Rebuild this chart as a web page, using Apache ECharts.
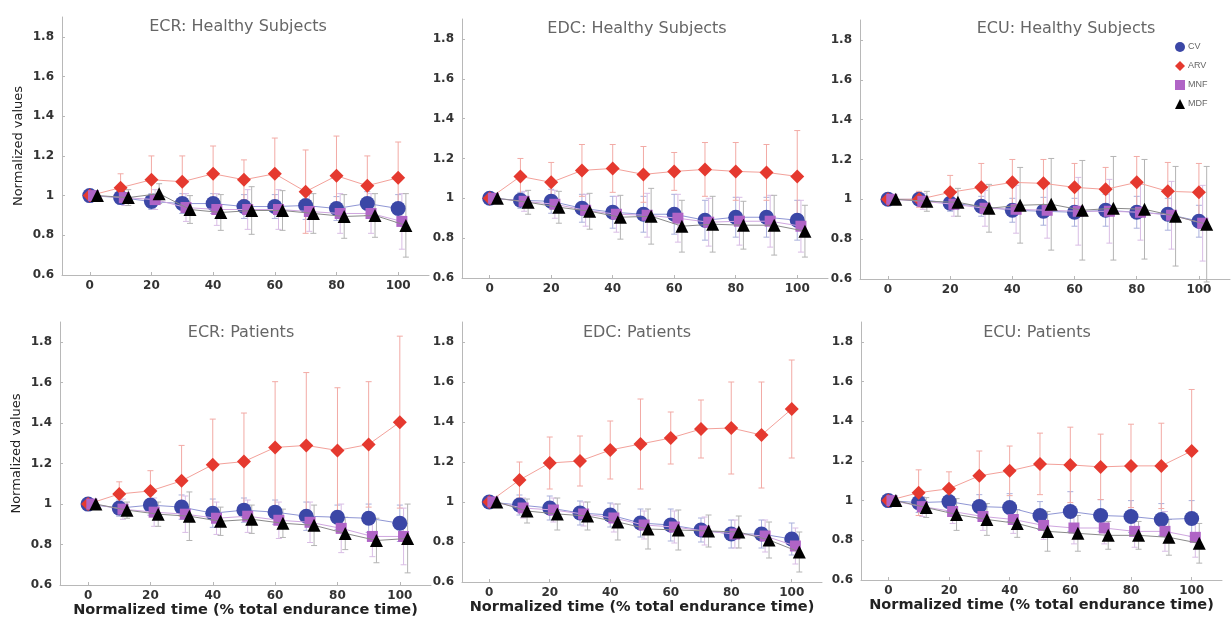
<!DOCTYPE html>
<html>
<head>
<meta charset="utf-8">
<script src="https://cdn.jsdelivr.net/npm/echarts@6/dist/echarts.min.js"></script>
<style>
html,body{margin:0;padding:0;background:#fff;}
#chart{width:1232px;height:620px;}
</style>
</head>
<body>
<div id="chart"></div>
<script>
// ---- categories / ticks ----
const timePoints = [0, 10, 20, 30, 40, 50, 60, 70, 80, 90, 100];
const xTickValues = [0, 20, 40, 60, 80, 100];
const yTickValues = [0.6, 0.8, 1.0, 1.2, 1.4, 1.6, 1.8];
const seriesNames = ['CV', 'ARV', 'MNF', 'MDF'];
const panelTitles = ['ECR: Healthy Subjects', 'EDC: Healthy Subjects', 'ECU: Healthy Subjects',
                     'ECR: Patients', 'EDC: Patients', 'ECU: Patients'];

// ---- ECR healthy ----
const ecrHealthyCV     = [1.00, 0.99, 0.97, 0.96, 0.96, 0.945, 0.945, 0.95, 0.935, 0.96, 0.935];
const ecrHealthyCVsd   = [0, 0.03, 0.04, 0.05, 0.05, 0.06, 0.06, 0.07, 0.06, 0.06, 0.07];
const ecrHealthyARV    = [1.00, 1.04, 1.08, 1.07, 1.11, 1.08, 1.11, 1.02, 1.10, 1.05, 1.09];
const ecrHealthyARVsd  = [0, 0.07, 0.12, 0.13, 0.14, 0.10, 0.18, 0.21, 0.20, 0.15, 0.18];
const ecrHealthyMNF    = [1.00, 0.99, 0.98, 0.94, 0.93, 0.93, 0.93, 0.92, 0.91, 0.91, 0.87];
const ecrHealthyMNFsd  = [0, 0.04, 0.05, 0.07, 0.08, 0.10, 0.10, 0.10, 0.10, 0.10, 0.14];
const ecrHealthyMDF    = [1.00, 0.99, 1.01, 0.93, 0.915, 0.925, 0.925, 0.91, 0.895, 0.90, 0.85];
const ecrHealthyMDFsd  = [0, 0.04, 0.05, 0.07, 0.09, 0.12, 0.10, 0.10, 0.11, 0.11, 0.16];

// ---- EDC healthy ----
const edcHealthyCV     = [1.00, 0.99, 0.985, 0.95, 0.93, 0.92, 0.92, 0.89, 0.905, 0.905, 0.89];
const edcHealthyCVsd   = [0, 0.04, 0.06, 0.07, 0.08, 0.09, 0.10, 0.10, 0.10, 0.10, 0.10];
const edcHealthyARV    = [1.00, 1.11, 1.08, 1.14, 1.15, 1.12, 1.135, 1.145, 1.135, 1.13, 1.11];
const edcHealthyARVsd  = [0, 0.09, 0.10, 0.13, 0.12, 0.14, 0.095, 0.135, 0.145, 0.14, 0.23];
const edcHealthyMNF    = [1.00, 0.985, 0.97, 0.94, 0.92, 0.915, 0.90, 0.88, 0.885, 0.885, 0.86];
const edcHealthyMNFsd  = [0, 0.05, 0.07, 0.08, 0.09, 0.11, 0.12, 0.12, 0.12, 0.13, 0.13];
const edcHealthyMDF    = [1.00, 0.98, 0.955, 0.935, 0.905, 0.91, 0.86, 0.87, 0.865, 0.865, 0.835];
const edcHealthyMDFsd  = [0, 0.06, 0.08, 0.09, 0.11, 0.14, 0.13, 0.14, 0.12, 0.15, 0.13];

// ---- ECU healthy ----
const ecuHealthyCV     = [1.00, 1.00, 0.98, 0.965, 0.945, 0.94, 0.935, 0.945, 0.935, 0.925, 0.89];
const ecuHealthyCVsd   = [0, 0.03, 0.04, 0.05, 0.06, 0.07, 0.07, 0.08, 0.08, 0.08, 0.08];
const ecuHealthyARV    = [1.00, 1.00, 1.035, 1.06, 1.085, 1.08, 1.06, 1.05, 1.085, 1.04, 1.035];
const ecuHealthyARVsd  = [0, 0.04, 0.085, 0.12, 0.115, 0.12, 0.12, 0.11, 0.13, 0.145, 0.145];
const ecuHealthyMNF    = [1.00, 0.99, 0.975, 0.955, 0.95, 0.945, 0.94, 0.94, 0.935, 0.92, 0.88];
const ecuHealthyMNFsd  = [0, 0.04, 0.06, 0.09, 0.12, 0.14, 0.17, 0.16, 0.14, 0.17, 0.19];
const ecuHealthyMDF    = [1.00, 0.99, 0.985, 0.955, 0.97, 0.975, 0.945, 0.955, 0.95, 0.915, 0.875];
const ecuHealthyMDFsd  = [0, 0.05, 0.07, 0.12, 0.19, 0.23, 0.25, 0.26, 0.25, 0.25, 0.29];

// ---- ECR patients ----
const ecrPatientsCV    = [1.00, 0.98, 0.995, 0.985, 0.955, 0.97, 0.96, 0.94, 0.935, 0.93, 0.905];
const ecrPatientsCVsd  = [0, 0.04, 0.05, 0.06, 0.07, 0.06, 0.06, 0.07, 0.06, 0.07, 0.09];
const ecrPatientsARV   = [1.00, 1.05, 1.065, 1.115, 1.195, 1.21, 1.28, 1.29, 1.265, 1.295, 1.405];
const ecrPatientsARVsd = [0, 0.06, 0.10, 0.175, 0.225, 0.24, 0.325, 0.36, 0.31, 0.31, 0.425];
const ecrPatientsMNF   = [1.00, 0.975, 0.96, 0.95, 0.93, 0.94, 0.92, 0.91, 0.88, 0.84, 0.84];
const ecrPatientsMNFsd = [0, 0.05, 0.07, 0.09, 0.08, 0.08, 0.09, 0.10, 0.12, 0.10, 0.14];
const ecrPatientsMDF   = [1.00, 0.97, 0.95, 0.94, 0.915, 0.925, 0.905, 0.895, 0.855, 0.82, 0.83];
const ecrPatientsMDFsd = [0, 0.04, 0.06, 0.12, 0.07, 0.07, 0.07, 0.10, 0.08, 0.11, 0.17];

// ---- EDC patients ----
const edcPatientsCV    = [1.00, 0.985, 0.97, 0.945, 0.935, 0.895, 0.885, 0.86, 0.84, 0.84, 0.815];
const edcPatientsCVsd  = [0, 0.05, 0.06, 0.06, 0.06, 0.07, 0.08, 0.06, 0.07, 0.07, 0.08];
const edcPatientsARV   = [1.00, 1.11, 1.195, 1.205, 1.26, 1.29, 1.32, 1.365, 1.37, 1.335, 1.465];
const edcPatientsARVsd = [0, 0.09, 0.13, 0.125, 0.145, 0.225, 0.13, 0.145, 0.23, 0.265, 0.245];
const edcPatientsMNF   = [1.00, 0.97, 0.96, 0.94, 0.92, 0.885, 0.875, 0.855, 0.84, 0.83, 0.78];
const edcPatientsMNFsd = [0, 0.05, 0.06, 0.06, 0.07, 0.07, 0.08, 0.07, 0.07, 0.08, 0.09];
const edcPatientsMDF   = [1.00, 0.955, 0.94, 0.93, 0.90, 0.865, 0.86, 0.855, 0.85, 0.81, 0.75];
const edcPatientsMDFsd = [0, 0.06, 0.08, 0.07, 0.09, 0.10, 0.10, 0.08, 0.08, 0.09, 0.10];

// ---- ECU patients ----
const ecuPatientsCV    = [1.00, 0.99, 0.995, 0.97, 0.965, 0.925, 0.945, 0.925, 0.92, 0.905, 0.91];
const ecuPatientsCVsd  = [0, 0.05, 0.05, 0.06, 0.07, 0.07, 0.10, 0.08, 0.08, 0.08, 0.09];
const ecuPatientsARV   = [1.00, 1.04, 1.06, 1.125, 1.15, 1.185, 1.18, 1.17, 1.175, 1.175, 1.25];
const ecuPatientsARVsd = [0, 0.115, 0.085, 0.125, 0.125, 0.155, 0.19, 0.165, 0.21, 0.215, 0.31];
const ecuPatientsMNF   = [1.00, 0.97, 0.945, 0.92, 0.905, 0.875, 0.862, 0.862, 0.845, 0.845, 0.815];
const ecuPatientsMNFsd = [0, 0.05, 0.06, 0.07, 0.07, 0.07, 0.08, 0.08, 0.08, 0.10, 0.10];
const ecuPatientsMDF   = [1.00, 0.965, 0.93, 0.905, 0.885, 0.845, 0.835, 0.825, 0.825, 0.815, 0.785];
const ecuPatientsMDFsd = [0, 0.05, 0.08, 0.08, 0.07, 0.10, 0.09, 0.07, 0.07, 0.09, 0.10];

// ---- table built from the arrays ----
const panelData = [
  [[ecrHealthyCV, ecrHealthyCVsd], [ecrHealthyARV, ecrHealthyARVsd], [ecrHealthyMNF, ecrHealthyMNFsd], [ecrHealthyMDF, ecrHealthyMDFsd]],
  [[edcHealthyCV, edcHealthyCVsd], [edcHealthyARV, edcHealthyARVsd], [edcHealthyMNF, edcHealthyMNFsd], [edcHealthyMDF, edcHealthyMDFsd]],
  [[ecuHealthyCV, ecuHealthyCVsd], [ecuHealthyARV, ecuHealthyARVsd], [ecuHealthyMNF, ecuHealthyMNFsd], [ecuHealthyMDF, ecuHealthyMDFsd]],
  [[ecrPatientsCV, ecrPatientsCVsd], [ecrPatientsARV, ecrPatientsARVsd], [ecrPatientsMNF, ecrPatientsMNFsd], [ecrPatientsMDF, ecrPatientsMDFsd]],
  [[edcPatientsCV, edcPatientsCVsd], [edcPatientsARV, edcPatientsARVsd], [edcPatientsMNF, edcPatientsMNFsd], [edcPatientsMDF, edcPatientsMDFsd]],
  [[ecuPatientsCV, ecuPatientsCVsd], [ecuPatientsARV, ecuPatientsARVsd], [ecuPatientsMNF, ecuPatientsMNFsd], [ecuPatientsMDF, ecuPatientsMDFsd]]
];

// ---- layout & style (not data) ----
const grids = [
  {left: 62,  top: 17,  width: 367, height: 258},
  {left: 462, top: 19,  width: 366, height: 259},
  {left: 860, top: 20,  width: 370, height: 259},
  {left: 60,  top: 322, width: 371, height: 263},
  {left: 462, top: 322, width: 360, height: 260},
  {left: 861, top: 322, width: 361, height: 258}
];
const titleCenters = [[233, 14], [632, 16], [1061, 16], [236, 320], [632, 320], [1032, 320]];
const styles = [
  {symbol: 'circle',   size: 15, color: '#3b47a6', line: '#8f96d4', err: '#aab0dc', off: 0},
  {symbol: 'diamond',  size: 14, color: '#e5392f', line: '#f3a19a', err: '#f2aaa5', off: 0},
  {symbol: 'rect',     size: 11, color: '#b064c6', line: '#cfa6df', err: '#d9bde5', off: 1.2},
  {symbol: 'triangle', size: 13, color: '#000000', line: '#8a8a8a', err: '#b4b4b4', off: 2.5}
];
const FONT = 'DejaVu Sans';

const option = {
  animation: false,
  backgroundColor: '#fff',
  title: [], grid: [], xAxis: [], yAxis: [], series: [],
  legend: {
    orient: 'vertical', left: 1170, top: 37, itemWidth: 10, itemHeight: 10, itemGap: 9,
    textStyle: {fontFamily: 'Liberation Sans', fontSize: 9, color: '#666', padding: [0, 0, 0, -2]},
    data: seriesNames.map((n, i) => ({name: n, icon: styles[i].symbol,
      itemStyle: {color: styles[i].color}}))
  }
};

panelData.forEach((pd, p) => {
  option.grid.push(Object.assign({containLabel: false}, grids[p]));
  option.title.push({
    text: panelTitles[p], left: titleCenters[p][0], top: titleCenters[p][1], textAlign: 'center',
    textStyle: {fontFamily: FONT, fontSize: 16, fontWeight: 'normal', color: '#666'}
  });
  const bottomRow = p >= 3;
  option.xAxis.push({
    type: 'value', gridIndex: p, min: -9, max: 110,
    name: bottomRow ? 'Normalized time (% total endurance time)' : '',
    nameLocation: 'middle', nameGap: 18,
    nameTextStyle: {fontFamily: FONT, fontSize: 14.5, fontWeight: 'bold', color: '#222'},
    axisLine: {show: true, onZero: false, lineStyle: {color: '#b8b8b8', width: 1}},
    axisTick: {show: true, inside: true, length: 3, customValues: xTickValues, lineStyle: {color: '#b8b8b8'}},
    axisLabel: {customValues: xTickValues, margin: 5, fontFamily: FONT, fontSize: 12, fontWeight: 'bold', color: '#333',
      formatter: v => String(v)},
    splitLine: {show: false}
  });
  option.yAxis.push({
    type: 'value', gridIndex: p, min: 0.6, max: 1.9,
    name: (p % 3 === 0) ? 'Normalized values' : '',
    nameLocation: 'middle', nameGap: 37,
    nameTextStyle: {fontFamily: FONT, fontSize: 13, color: '#222'},
    axisLine: {show: true, onZero: false, lineStyle: {color: '#b8b8b8', width: 1}},
    axisTick: {show: true, inside: true, length: 3, customValues: yTickValues, lineStyle: {color: '#b8b8b8'}},
    axisLabel: {customValues: yTickValues, margin: 8, fontFamily: FONT, fontSize: 12, fontWeight: 'bold', color: '#333',
      formatter: v => (Math.abs(v - 1) < 1e-9 ? '1' : (+v).toFixed(1))},
    splitLine: {show: false}
  });
  pd.forEach((s, k) => {
    const st = styles[k];
    const pts = timePoints.map((t, i) => [t + st.off, s[0][i], s[1][i]]);
    option.series.push({
      name: seriesNames[k] + ' SD', type: 'custom', xAxisIndex: p, yAxisIndex: p, z: 1,
      clip: false, silent: true,
      data: pts,
      encode: {x: 0, y: 1},
      renderItem: (params, api) => {
        const x = api.value(0), y = api.value(1), sd = api.value(2);
        if (!sd) return null;
        const a = api.coord([x, y + sd]), b = api.coord([x, y - sd]);
        const cw = 3;
        const ls = {stroke: st.err, lineWidth: 1};
        return {type: 'group', children: [
          {type: 'line', shape: {x1: a[0], y1: a[1], x2: b[0], y2: b[1]}, style: ls},
          {type: 'line', shape: {x1: a[0] - cw, y1: a[1], x2: a[0] + cw, y2: a[1]}, style: ls},
          {type: 'line', shape: {x1: b[0] - cw, y1: b[1], x2: b[0] + cw, y2: b[1]}, style: ls}
        ]};
      }
    });
  });
  pd.forEach((s, k) => {
    const st = styles[k];
    option.series.push({
      name: seriesNames[k], type: 'line', xAxisIndex: p, yAxisIndex: p, z: 3 + k,
      data: timePoints.map((t, i) => [t + st.off, s[0][i]]),
      symbol: st.symbol, symbolSize: st.size, showSymbol: true,
      itemStyle: {color: st.color, opacity: 1},
      lineStyle: {color: st.line, width: 1},
      emphasis: {disabled: true}
    });
  });
});

const chart = echarts.init(document.getElementById('chart'), null, {renderer: 'canvas'});
chart.setOption(option);
</script>
</body>
</html>
